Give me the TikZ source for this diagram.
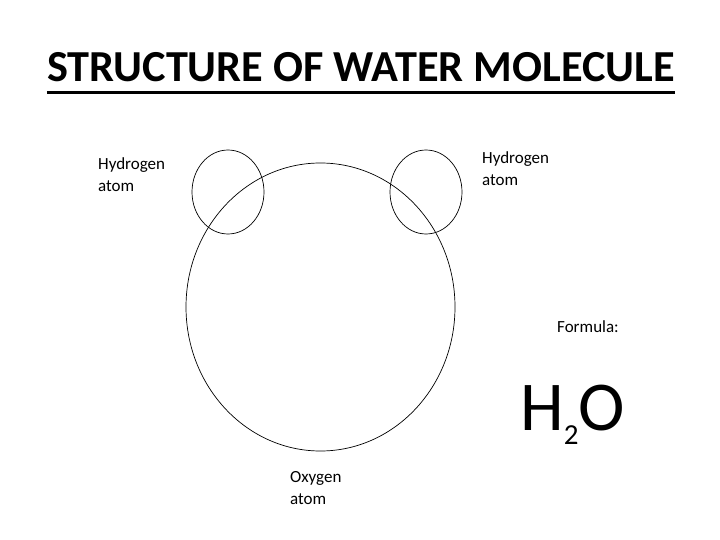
\documentclass[tikz,border=0pt]{standalone}
\usepackage{fontspec}
\setmainfont{Carlito}
\usetikzlibrary{shapes.geometric}
\begin{document}
\begin{tikzpicture}[
      x=1pt, y=-1pt,
      atom/.style={draw, line width=0.7pt, ellipse, inner sep=0},
      atomtext/.style={inner sep=0, align=left, anchor=base west,
        font=\fontsize{17}{22}\selectfont},
      heading/.style={inner sep=0, anchor=base, font=\fontsize{44.3}{44}\selectfont\bfseries}
    ]
    \useasboundingbox (0,0) rectangle (720,540);
    % title
    \node[heading] (title) at (361,82) {STRUCTURE OF WATER MOLECULE};
    \draw[line width=3pt] ([yshift=-11pt]title.base west) -- ([yshift=-11pt]title.base east);
    % atoms
    \node[atom, minimum width=269, minimum height=288] (oxygen) at (320.5,307) {};
    \node[atom, minimum width=72, minimum height=84] (hleft) at (228,192) {};
    \node[atom, minimum width=72, minimum height=84] (hright) at (426,192) {};
    % labels (base = last line)
    \node[atomtext] (hlefttext) at (98,192) {Hydrogen\\atom};
    \node[atomtext] (hrighttext) at (482,186) {Hydrogen\\atom};
    \node[atomtext] (oxygentext) at (290,504) {Oxygen\\atom};
    \node[atomtext] (formula) at (557,332) {Formula:};
    \node[inner sep=0, anchor=base west, font=\fontsize{70}{70}\selectfont] (water) at (520,430)
      {H\raisebox{-14pt}{\fontsize{29}{29}\selectfont 2}O};
\end{tikzpicture}
\end{document}
